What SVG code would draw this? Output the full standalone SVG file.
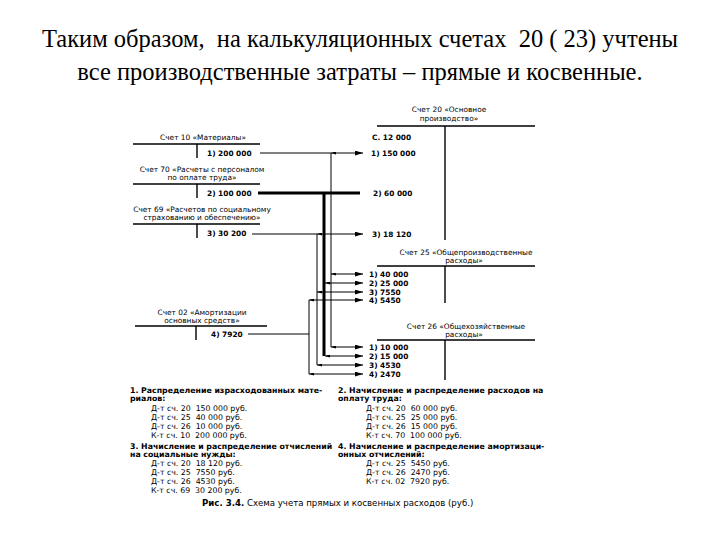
<svg xmlns="http://www.w3.org/2000/svg" width="720" height="540" viewBox="0 0 720 540" xml:space="preserve">
<style>
text{white-space:pre}
.title{font-family:"Liberation Serif","Times New Roman",serif;font-size:24.5px;fill:#000;text-anchor:middle}
.hd{font-family:"DejaVu Sans","Liberation Sans",sans-serif;font-size:7.4px;fill:#000;text-anchor:middle}
.en{font-family:"DejaVu Sans","Liberation Sans",sans-serif;font-size:7.4px;fill:#000;font-weight:bold}
.bt{font-family:"DejaVu Sans","Liberation Sans",sans-serif;font-size:7.8px;fill:#000}
.cap{font-family:"DejaVu Sans","Liberation Sans",sans-serif;font-size:8.6px;fill:#000}
.b{font-weight:bold}
.t{stroke:#000;stroke-width:1.4;fill:none}
.c{stroke:#000;stroke-width:1;fill:none}
.k{stroke:#000;stroke-width:3;fill:none}
.a{marker-end:url(#ar);marker-start:url(#as)}
</style>
<defs>
<marker id="ar" viewBox="0 0 10 6" refX="10" refY="3" markerWidth="8" markerHeight="5" markerUnits="userSpaceOnUse" orient="auto"><path d="M0,0 L10,3 L0,6 Z" fill="#000"/></marker>
<marker id="as" viewBox="0 0 10 6" refX="0" refY="3" markerWidth="5" markerHeight="3" markerUnits="userSpaceOnUse" orient="auto"><path d="M10,0 L0,3 L10,6 Z" fill="#000"/></marker>
</defs>
<rect width="720" height="540" fill="#fff"/>
<g id="title">
<text class="title" x="360" y="47">Таким образом,  на калькуляционных счетах  20 ( 23) учтены</text>
<text class="title" x="360" y="80">все производственные затраты – прямые и косвенные.</text>
</g>
<g id="acc10">
<text class="hd" x="203" y="140">Счет 10 «Материалы»</text>
<path class="t" d="M133,144 H260 M197,144 V158"/>
<text class="en" x="207" y="156">1) 200 000</text>
</g>
<g id="acc70">
<text class="hd" x="202" y="172">Счет 70 «Расчеты с персоналом</text>
<text class="hd" x="202" y="180">по оплате труда»</text>
<path class="t" d="M133,184 H260 M197,184 V198"/>
<text class="en" x="207" y="196">2) 100 000</text>
</g>
<g id="acc69">
<text class="hd" x="202" y="212">Счет 69 «Расчетов по социальному</text>
<text class="hd" x="202" y="220">страхованию и обеспечению»</text>
<path class="t" d="M133,224 H260 M197,224 V238"/>
<text class="en" x="207" y="236">3) 30 200</text>
</g>
<g id="acc02">
<text class="hd" x="202" y="315">Счет 02 «Амортизации</text>
<text class="hd" x="202" y="323">основных средств»</text>
<path class="t" d="M135,326 H267 M196,326 V340"/>
<text class="en" x="211" y="337">4) 7920</text>
</g>
<g id="acc20">
<text class="hd" x="449" y="112">Счет 20 «Основное</text>
<text class="hd" x="449" y="121" font-size="6.3">производство»</text>
<path class="t" d="M377,126 H535 M445,126 V240"/>
<text class="en" x="372" y="140">С. 12 000</text>
<text class="en" x="371" y="156">1) 150 000</text>
<text class="en" x="373" y="196">2) 60 000</text>
<text class="en" x="372" y="237">3) 18 120</text>
</g>
<g id="acc25">
<text class="hd" x="466" y="255">Счет 25 «Общепроизводственные</text>
<text class="hd" x="464" y="263">расходы»</text>
<path class="t" d="M377,266 H535 M445,266 V303"/>
<text class="en" x="369" y="277">1) 40 000</text>
<text class="en" x="369" y="286">2) 25 000</text>
<text class="en" x="369" y="295">3) 7550</text>
<text class="en" x="369" y="303">4) 5450</text>
</g>
<g id="acc26">
<text class="hd" x="466" y="329">Счет 26 «Общехозяйственные</text>
<text class="hd" x="464" y="337">расходы»</text>
<path class="t" d="M377,340 H535 M445,340 V380"/>
<text class="en" x="369" y="350">1) 10 000</text>
<text class="en" x="369" y="359">2) 15 000</text>
<text class="en" x="369" y="368">3) 4530</text>
<text class="en" x="369" y="377">4) 2470</text>
</g>
<g id="connectors">
<path class="c" d="M260,153 H331" />
<path class="c a" d="M331,153 H363"/>
<path class="c" d="M331,153 V347"/>
<path class="c a" d="M331,274 H363"/>
<path class="c a" d="M331,347 H363"/>
<path class="k" d="M258,193 H360 M324,193 V356"/>
<path class="c a" d="M325,283 H363"/>
<path class="c a" d="M325,356 H363"/>
<path class="c" d="M252,234 H317"/>
<path class="c a" d="M317,234 H363"/>
<path class="c" d="M317,234 V365"/>
<path class="c a" d="M317,292 H363"/>
<path class="c a" d="M317,365 H363"/>
<path class="c" d="M248,334 H309 M309,300 V374"/>
<path class="c a" d="M309,300 H363"/>
<path class="c a" d="M309,374 H363"/>
</g>
<g id="notes-left">
<text class="bt b" x="130" y="393">1. Распределение израсходованных мате-</text>
<text class="bt b" x="130" y="401">риалов:</text>
<text class="bt" x="151" y="411">Д-т сч. 20  150 000 руб.</text>
<text class="bt" x="151" y="420">Д-т сч. 25  40 000 руб.</text>
<text class="bt" x="151" y="429">Д-т сч. 26  10 000 руб.</text>
<text class="bt" x="151" y="438">К-т сч. 10  200 000 руб.</text>
<text class="bt b" x="130" y="449">3. Начисление и распределение отчислений</text>
<text class="bt b" x="130" y="457">на социальные нужды:</text>
<text class="bt" x="151" y="466">Д-т сч. 20  18 120 руб.</text>
<text class="bt" x="151" y="475">Д-т сч. 25  7550 руб.</text>
<text class="bt" x="151" y="484">Д-т сч. 26  4530 руб.</text>
<text class="bt" x="151" y="493">К-т сч. 69  30 200 руб.</text>
</g>
<g id="notes-right">
<text class="bt b" x="338" y="393">2. Начисление и распределение расходов на</text>
<text class="bt b" x="338" y="401">оплату труда:</text>
<text class="bt" x="366" y="411">Д-т сч. 20  60 000 руб.</text>
<text class="bt" x="366" y="420">Д-т сч. 25  25 000 руб.</text>
<text class="bt" x="366" y="429">Д-т сч. 26  15 000 руб.</text>
<text class="bt" x="366" y="438">К-т сч. 70  100 000 руб.</text>
<text class="bt b" x="338" y="449">4. Начисление и распределение амортизаци-</text>
<text class="bt b" x="338" y="457">онных отчислений:</text>
<text class="bt" x="366" y="466">Д-т сч. 25  5450 руб.</text>
<text class="bt" x="366" y="475">Д-т сч. 26  2470 руб.</text>
<text class="bt" x="366" y="484">К-т сч. 02  7920 руб.</text>
</g>
<g id="caption">
<text class="cap" x="202" y="506"><tspan class="b">Рис. 3.4.</tspan> Схема учета прямых и косвенных расходов (руб.)</text>
</g>
</svg>
